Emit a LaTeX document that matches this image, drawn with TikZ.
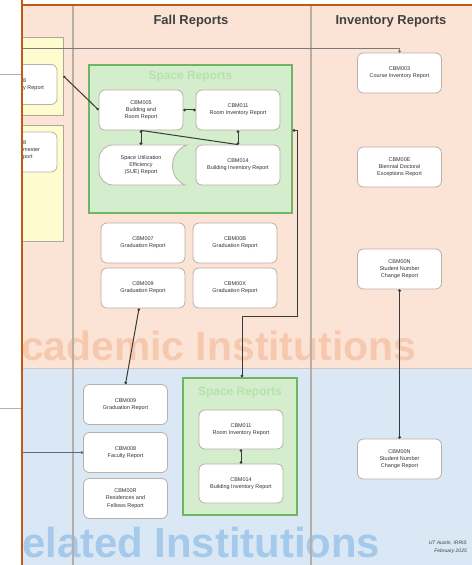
\documentclass[tikz,border=0pt]{standalone}
\usepackage{fontspec}
\setmainfont{Liberation Sans}
\usetikzlibrary{arrows.meta}

\definecolor{lanepink}{HTML}{FBE3D6}
\definecolor{laneblue}{HTML}{DAE8F5}
\definecolor{framec}{HTML}{BF5B17}
\definecolor{dividerc}{HTML}{B9ADA8}
\definecolor{boxline}{HTML}{BCAEA8}
\definecolor{textc}{HTML}{333333}
\definecolor{headc}{HTML}{404040}
\definecolor{groupfill}{HTML}{D4EDCC}
\definecolor{groupline}{HTML}{6FB566}
\definecolor{grouptitle}{HTML}{B6E2AC}
\definecolor{yellowfill}{HTML}{FEFCCF}
\definecolor{yellowline}{HTML}{ABA79C}
\definecolor{linec}{HTML}{3A3A3A}
\definecolor{greyline}{HTML}{7A7A7A}
\definecolor{blueline}{HTML}{5B6B7B}
\definecolor{wmorange}{HTML}{F6C9AE}
\definecolor{wmblue}{HTML}{A5C9EA}

\tikzset{
  rbox/.style={draw=boxline, fill=white, rounded corners=6bp, line width=0.8bp,
    minimum width=84bp, minimum height=40bp, align=center, text=textc,
    font=\fontsize{5.5}{7.3}\selectfont},
  groupbox/.style={draw=groupline, fill=groupfill, line width=1.6bp},
  yellowbox/.style={draw=yellowline, fill=yellowfill, line width=0.9bp},
  grouptitle/.style={text=grouptitle, font=\fontsize{12}{12}\selectfont\bfseries},
  header/.style={text=headc, font=\fontsize{13}{13}\selectfont\bfseries},
  watermark/.style={anchor=base west, font=\fontsize{42}{42}\selectfont\bfseries},
  conn/.style={draw=linec, line width=1bp, >={Circle[length=2.6bp]}},
  divider/.style={draw=dividerc, line width=1.2bp},
}

\begin{document}
\begin{tikzpicture}[x=1bp, y=-1bp, every node/.style={inner sep=0pt}]
\useasboundingbox (0,0) rectangle (472,565);
\fill[white] (0,0) rectangle (472,565);

% stray lines left of the frame
\coordinate (outA1) at (0,75);
\coordinate (outA2) at (21,75);
\coordinate (outB1) at (0,408);
\coordinate (outB2) at (21,408);
\draw[draw=dividerc, line width=1bp] (outA1) -- (outA2);
\draw[draw=dividerc, line width=1bp] (outB1) -- (outB2);

\begin{scope}
\clip (22,0) rectangle (472,565);

% swim lanes
\fill[lanepink] (22,5) rectangle (472,368);
\fill[laneblue] (22,368) rectangle (472,565);
\draw[draw=dividerc!70, line width=0.6bp] (22,368) -- (472,368);

% lane watermarks
\node[watermark, font=\fontsize{41}{41}\selectfont\bfseries, text=wmorange] (wmA) at (21,360) {cademic Institutions};
\node[watermark, text=wmblue] (wmB) at (22,557) {elated Institutions};

% column dividers
\draw[divider] (73,5) -- (73,565);
\draw[divider] (311,5) -- (311,565);

% column headers
\node[header] (hFall) at (191,21) {Fall Reports};
\node[header] (hInv) at (391,21) {Inventory Reports};

% left column (partly visible)
\node[yellowbox, minimum width=83bp, minimum height=78bp] (yelA) at (21.5,76) {};
\node[yellowbox, minimum width=83bp, minimum height=116bp] (yelB) at (21.5,183) {};
\node[rbox] (leftA) at (15,84.5) {};
\node[rbox] (leftB) at (15,152) {};
\node[anchor=west, align=left, text=textc, font=\fontsize{5.5}{7.3}\selectfont] (leftAt) at (23,85) {8\\y Report};
\node[anchor=west, align=left, text=textc, font=\fontsize{5.5}{7.3}\selectfont] (leftBt) at (23,150) {8\\mester\\port};

% space reports group, top lane
\node[groupbox, minimum width=203bp, minimum height=148bp] (spaceA) at (190.5,139) {};
\node[grouptitle] (spaceAt) at (190.5,77) {Space Reports};
\node[rbox] (c005) at (141,110) {CBM005\\Building and\\Room Report};
\node[rbox] (c011a) at (238,110) {CBM011\\Room Inventory Report};
\node[rbox] (c014a) at (238,165) {CBM014\\Building Inventory Report};
\node[minimum width=84bp, minimum height=40bp] (sue) at (141,165) {};
% stored-data outline of the SUE report
\fill[white] (187,145) [rounded corners=14bp] -- (99,145) -- (99,185) [sharp corners] -- (185,185)
  .. controls (168,178) and (168,152) .. (187,145) -- cycle;
\draw[draw=boxline, line width=0.8bp] (187,145) [rounded corners=14bp] -- (99,145) -- (99,185) [sharp corners] -- (185,185)
  .. controls (168,178) and (168,152) .. (187,145) -- cycle;
\node[align=center, text=textc, font=\fontsize{5.5}{7.3}\selectfont] (suet) at (sue) {Space Utilization\\Efficiency\\(SUE) Report};

% graduation reports, top lane
\node[rbox] (c007) at (143,243) {CBM007\\Graduation Report};
\node[rbox] (c00b) at (235,243) {CBM00B\\Graduation Report};
\node[rbox] (c009a) at (143,288) {CBM009\\Graduation Report};
\node[rbox] (c00x) at (235,288) {CBM00X\\Graduation Report};

% inventory reports column
\node[rbox] (c003) at (399.5,73) {CBM003\\Course Inventory Report};
\node[rbox] (c00e) at (399.5,167) {CBM00E\\Biennial Doctoral\\Exceptions Report};
\node[rbox] (c00na) at (399.5,269) {CBM00N\\Student Number\\Change Report};
\node[rbox] (c00nb) at (399.5,459) {CBM00N\\Student Number\\Change Report};

% bottom lane, fall reports
\node[rbox] (c009b) at (125.5,404.5) {CBM009\\Graduation Report};
\node[rbox] (c008) at (125.5,452.5) {CBM008\\Faculty Report};
\node[rbox] (c00r) at (125.5,498.5) {CBM00R\\Residences and\\Fellows Report};

% space reports group, bottom lane
\node[groupbox, minimum width=114bp, minimum height=137bp] (spaceB) at (240,446.5) {};
\node[grouptitle] (spaceBt) at (240,393) {Space Reports};
\node[rbox, minimum height=39bp] (c011b) at (241,429.5) {CBM011\\Room Inventory Report};
\node[rbox, minimum height=39bp] (c014b) at (241,483.5) {CBM014\\Building Inventory Report};

% connectors
\coordinate (srcTop) at (22,48);
\coordinate (srcBot) at (22,452.5);
\draw[conn, draw=greyline, line width=0.8bp, ->] (srcTop) -| (c003.north);
\draw[conn, draw=blueline, ->] (srcBot) -- (c008.west);
\draw[conn, <->] (yelA.east) -- (c005.west);
\draw[conn, <->] (c005.east) -- (c011a.west);
\draw[conn, <->] (c005.south) -- (sue.north);
\draw[conn] (c005.south) -- (c014a.north);
\draw[conn, <->] (c011a.south) -- (c014a.north);
\draw[conn, <->] (spaceA.east |- c005.south) -- ++(5,0) -- ++(0,186) -| ([xshift=2bp]spaceB.north);
\draw[conn, <->] ([xshift=-4bp]c009a.south) -- (c009b.north);
\draw[conn, line width=1.2bp, <->] (c00na.south) -- (c00nb.north);
\draw[conn, <->] (c011b.south) -- (c014b.north);

% footer
\node[anchor=north east, align=right, text=headc, font=\fontsize{5}{7.5}\selectfont\itshape] (footer) at (467,541) {UT Austin, IRRIS\\February 2025};
\end{scope}

% frame lines
\draw[draw=framec, line width=2bp] (22,0) -- (22,565);
\draw[draw=framec, line width=2bp] (21,5) -- (472,5);
\end{tikzpicture}
\end{document}
